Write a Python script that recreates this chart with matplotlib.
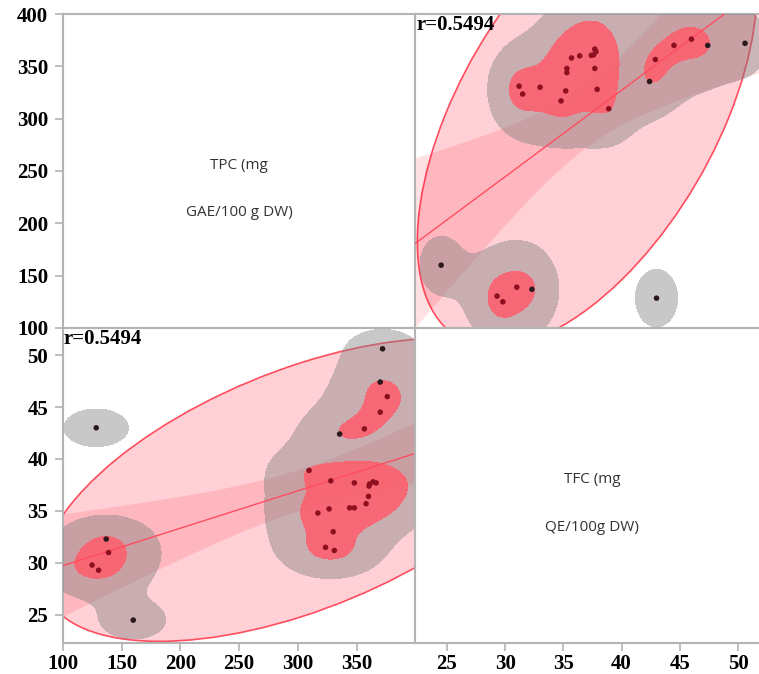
import numpy as np
import matplotlib.pyplot as plt
from matplotlib.patches import Ellipse

# TPC (mg GAE/100 g DW) and TFC (mg QE/100g DW) per sample
tpc = [372, 370, 376, 370, 356.5, 335.5, 128.5, 309.5, 328, 348,
       361, 364, 366.5, 360.5, 360, 358, 317, 326.5, 344, 348,
       330, 323.5, 331, 137, 139, 125, 130.5, 160]
tfc = [50.6, 47.4, 46.0, 44.5, 42.9, 42.4, 43.0, 38.9, 37.9, 37.7,
       37.6, 37.8, 37.7, 37.4, 36.4, 35.7, 34.8, 35.2, 35.3, 35.3,
       33.0, 31.5, 31.2, 32.3, 31.0, 29.8, 29.3, 24.5]
# 1 = point drawn in dark red (inside the densest contour)
core = [0, 0, 1, 1, 1, 0, 0, 1, 1, 1,
        1, 1, 1, 1, 1, 1, 1, 1, 1, 1,
        1, 1, 1, 0, 1, 1, 1, 0]
r_text = 'r=0.5494'
tpc_ticks = [100, 150, 200, 250, 300, 350, 400]
tfc_ticks = [25, 30, 35, 40, 45, 50]
tpc_lim = (100, 400)
tfc_lim = (22.3, 52.6)

x = np.array(tpc, float)
y = np.array(tfc, float)
n = len(x)
pt_col = np.where(np.array(core) == 1, '#8e1020', '#2a1a1c')

tick_font = dict(family='Liberation Serif', weight='bold', size=15)
grey = '#b4b4b4'

W, H = 759, 674
fig = plt.figure(figsize=(W / 100, H / 100), dpi=100)
L, M, R = 62.7, 415.5, 768.3
T, C, B = 14, 328, 643


def box(x0, y0, x1, y1):
    return [x0 / W, 1 - y1 / H, (x1 - x0) / W, (y1 - y0) / H]


ax_tl = fig.add_axes(box(L, T, M, C))
ax_tr = fig.add_axes(box(M, T, R, C))
ax_bl = fig.add_axes(box(L, C, M, B))
ax_br = fig.add_axes(box(M, C, R, B))

# kernel densities (bandwidth proportional to each variable's sd)
gx = np.linspace(40, 460, 400)
gy = np.linspace(15, 60, 400)
GX, GY = np.meshgrid(gx, gy)
sx, sy = x.std(ddof=1), y.std(ddof=1)


def dens(px, py, bw):
    px = np.asarray(px)[..., None]
    py = np.asarray(py)[..., None]
    return np.exp(-0.5 * (((px - x) / (bw * sx)) ** 2 + ((py - y) / (bw * sy)) ** 2)).sum(-1)


D_outer = dens(GX, GY, 0.3)
D_inner = dens(GX, GY, 0.22)
lev_grey, lev_red = 0.6, 1.62

tcrit = 2.056
chi = 5.991


def draw(ax, u, v, U, V, Do, Di):
    um, vm = u.mean(), v.mean()
    cv = np.cov(u, v)
    # 95% density ellipse
    w, vec = np.linalg.eigh(cv)
    ang = np.degrees(np.arctan2(vec[1, 1], vec[0, 1]))
    e = Ellipse((um, vm), 2 * np.sqrt(chi * w[1]), 2 * np.sqrt(chi * w[0]), angle=ang,
                facecolor=(1, 0, 0.12, 0.18), edgecolor='#ff4d5e', lw=1.2, zorder=1)
    ax.add_patch(e)
    # linear fit + confidence band
    b = cv[0, 1] / cv[0, 0]
    a = vm - b * um
    res = v - (a + b * u)
    s = np.sqrt((res ** 2).sum() / (n - 2))
    sxx = ((u - um) ** 2).sum()
    uu = np.linspace(u.min() - 300, u.max() + 300, 400)
    fit = a + b * uu
    se = s * np.sqrt(1 / n + (uu - um) ** 2 / sxx)
    ax.fill_between(uu, fit - tcrit * se, fit + tcrit * se, color=(1, 0, 0.12, 0.12),
                    lw=0, zorder=2)
    # nonparametric density
    ax.contourf(U, V, Do, levels=[lev_grey, 1e9], colors=[(0.5, 0.5, 0.5, 0.43)], zorder=3)
    ax.contourf(U, V, Di, levels=[lev_red, 1e9], colors=[(1, 0.36, 0.42, 0.85)], zorder=4)
    ax.plot(uu, fit, color='#ff4d5e', lw=1, zorder=5)
    ax.scatter(u, v, s=16, c=pt_col, lw=0, zorder=6)


draw(ax_bl, x, y, GX, GY, D_outer, D_inner)
draw(ax_tr, y, x, GY, GX, D_outer, D_inner)

for ax in (ax_tl, ax_tr, ax_bl, ax_br):
    for sp in ax.spines.values():
        sp.set_color(grey)
        sp.set_linewidth(1.5)
    ax.tick_params(color=grey, length=6, width=1.2)
    ax.tick_params(axis='y', pad=4.5)
    ax.tick_params(axis='x', pad=2)
    ax.set_xticks([])
    ax.set_yticks([])

ax_tl.set_xlim(tfc_lim)
ax_tl.set_ylim(tpc_lim)
ax_tr.set_xlim(tfc_lim)
ax_tr.set_ylim(tpc_lim)
ax_bl.set_xlim(tpc_lim)
ax_bl.set_ylim(tfc_lim)
ax_br.set_xlim(tfc_lim)
ax_br.set_ylim(tfc_lim)

ax_tl.set_yticks(tpc_ticks)
ax_tl.set_yticklabels(tpc_ticks, fontdict=tick_font)
ax_bl.set_yticks(tfc_ticks)
ax_bl.set_yticklabels(tfc_ticks, fontdict=tick_font)
ax_bl.set_xticks(tpc_ticks[:-1])
ax_bl.set_xticklabels(tpc_ticks[:-1], fontdict=tick_font)
ax_br.set_xticks(tfc_ticks)
ax_br.set_xticklabels(tfc_ticks, fontdict=tick_font)

for ax in (ax_tr, ax_bl):
    ax.text(0.003, 0.997, r_text, transform=ax.transAxes, ha='left', va='top',
            fontdict=tick_font, zorder=10)

lab_font = dict(family='Open Sans', size=11, color='#333333')
ax_tl.text(0.5, 0.519, 'TPC (mg', transform=ax_tl.transAxes, ha='center', va='center', **lab_font)
ax_tl.text(0.5, 0.369, 'GAE/100 g DW)', transform=ax_tl.transAxes, ha='center', va='center', **lab_font)
ax_br.text(0.5, 0.52, 'TFC (mg', transform=ax_br.transAxes, ha='center', va='center', **lab_font)
ax_br.text(0.5, 0.368, 'QE/100g DW)', transform=ax_br.transAxes, ha='center', va='center', **lab_font)

fig.savefig('out.png', dpi=100)
